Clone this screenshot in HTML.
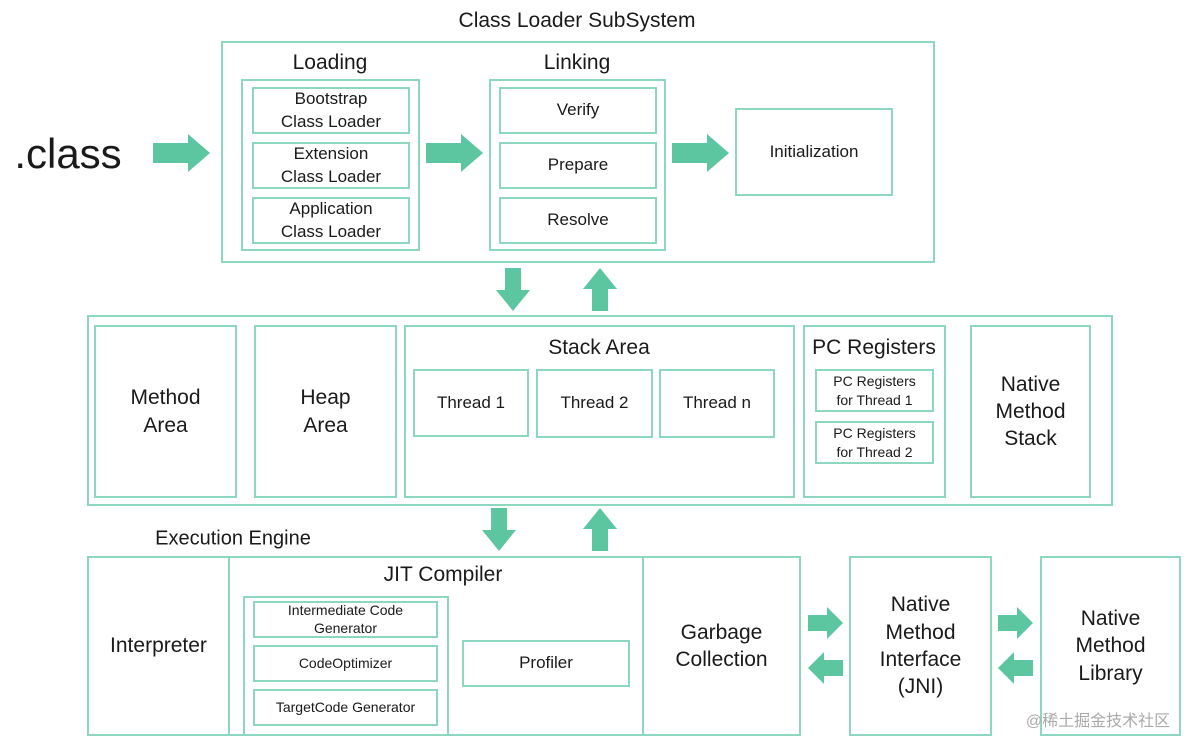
<!DOCTYPE html>
<html><head><meta charset="utf-8"><style>
body{margin:0;width:1200px;height:750px;background:#fff;position:relative;overflow:hidden;font-family:"Liberation Sans",sans-serif;color:#1a1a1a}
.b{position:absolute;border:2px solid #8dd7bd;box-sizing:border-box;display:flex;align-items:center;justify-content:center;text-align:center;line-height:1.3}
.t{position:absolute;white-space:nowrap;transform:translate(-50%,-50%)}
svg{position:absolute;left:0;top:0}
</style></head><body>
<div class="t" style="left:577px;top:21px;font-size:21px">Class Loader SubSystem</div>
<div class="b" style="left:221px;top:41px;width:714px;height:222px"></div>
<div class="t" style="left:330px;top:63px;font-size:21px">Loading</div>
<div class="b" style="left:241px;top:79px;width:179px;height:172px"></div>
<div class="b" style="left:252px;top:87px;width:158px;height:47px;font-size:17px">Bootstrap<br>Class Loader</div>
<div class="b" style="left:252px;top:142px;width:158px;height:47px;font-size:17px">Extension<br>Class Loader</div>
<div class="b" style="left:252px;top:197px;width:158px;height:47px;font-size:17px">Application<br>Class Loader</div>
<div class="t" style="left:577px;top:63px;font-size:21px">Linking</div>
<div class="b" style="left:489px;top:79px;width:177px;height:172px"></div>
<div class="b" style="left:499px;top:87px;width:158px;height:47px;font-size:17px">Verify</div>
<div class="b" style="left:499px;top:142px;width:158px;height:47px;font-size:17px">Prepare</div>
<div class="b" style="left:499px;top:197px;width:158px;height:47px;font-size:17px">Resolve</div>
<div class="b" style="left:735px;top:108px;width:158px;height:88px;font-size:17px">Initialization</div>
<div class="t" style="left:68px;top:154px;font-size:42px">.class</div>

<div class="b" style="left:87px;top:315px;width:1026px;height:191px"></div>
<div class="b" style="left:94px;top:325px;width:143px;height:173px;font-size:21px">Method<br>Area</div>
<div class="b" style="left:254px;top:325px;width:143px;height:173px;font-size:21px">Heap<br>Area</div>
<div class="b" style="left:404px;top:325px;width:391px;height:173px"></div>
<div class="t" style="left:599px;top:348px;font-size:21px">Stack Area</div>
<div class="b" style="left:413px;top:369px;width:116px;height:68px;font-size:17px">Thread 1</div>
<div class="b" style="left:536px;top:369px;width:117px;height:69px;font-size:17px">Thread 2</div>
<div class="b" style="left:659px;top:369px;width:116px;height:69px;font-size:17px">Thread n</div>
<div class="b" style="left:803px;top:325px;width:143px;height:173px"></div>
<div class="t" style="left:874px;top:348px;font-size:21px">PC Registers</div>
<div class="b" style="left:815px;top:369px;width:119px;height:43px;font-size:14px">PC Registers<br>for Thread 1</div>
<div class="b" style="left:815px;top:421px;width:119px;height:43px;font-size:14px">PC Registers<br>for Thread 2</div>
<div class="b" style="left:970px;top:325px;width:121px;height:173px;font-size:21px">Native<br>Method<br>Stack</div>

<div class="t" style="left:233px;top:539px;font-size:20px">Execution Engine</div>
<div class="b" style="left:87px;top:556px;width:143px;height:180px;font-size:21px">Interpreter</div>
<div class="b" style="left:228px;top:556px;width:416px;height:180px"></div>
<div class="t" style="left:443px;top:575px;font-size:21px">JIT Compiler</div>
<div class="b" style="left:243px;top:596px;width:206px;height:140px"></div>
<div class="b" style="left:253px;top:601px;width:185px;height:37px;font-size:14px;line-height:1.25">Intermediate Code<br>Generator</div>
<div class="b" style="left:253px;top:645px;width:185px;height:37px;font-size:14px">CodeOptimizer</div>
<div class="b" style="left:253px;top:689px;width:185px;height:37px;font-size:14px">TargetCode Generator</div>
<div class="b" style="left:462px;top:640px;width:168px;height:47px;font-size:17px">Profiler</div>
<div class="b" style="left:642px;top:556px;width:159px;height:180px;font-size:21px">Garbage<br>Collection</div>
<div class="b" style="left:849px;top:556px;width:143px;height:180px;font-size:21px">Native<br>Method<br>Interface<br>(JNI)</div>
<div class="b" style="left:1040px;top:556px;width:141px;height:180px;font-size:21px">Native<br>Method<br>Library</div>
<div class="t" style="left:1098px;top:719px;font-size:16px;color:#aaa;font-family:'Liberation Sans','Noto Sans CJK SC',sans-serif">@稀土掘金技术社区</div>

<svg width="1200" height="750" fill="#5cc6a0">
<defs>
<path id="r" d="M0,-10 H35 V-19 L57,0 L35,19 V10 H0 Z"/>
<path id="d" d="M-8,0 H8 V22 H17 L0,43 L-17,22 H-8 Z"/>
</defs>
<use href="#r" x="153" y="153"/>
<use href="#r" x="426" y="153"/>
<use href="#r" x="672" y="153"/>
<use href="#d" x="513" y="268"/>
<use href="#d" x="600" y="268" transform="rotate(180 600 289.5)"/>
<use href="#d" x="499" y="508"/>
<use href="#d" x="600" y="508" transform="rotate(180 600 529.5)"/>
<path d="M808,615 H827 V607 L843,623 L827,639 V631 H808 Z"/>
<path d="M843,660 H824 V652 L808,668 L824,684 V676 H843 Z"/>
<path d="M998,615 H1017 V607 L1033,623 L1017,639 V631 H998 Z"/>
<path d="M1033,660 H1014 V652 L998,668 L1014,684 V676 H1033 Z"/>
</svg>
</body></html>
